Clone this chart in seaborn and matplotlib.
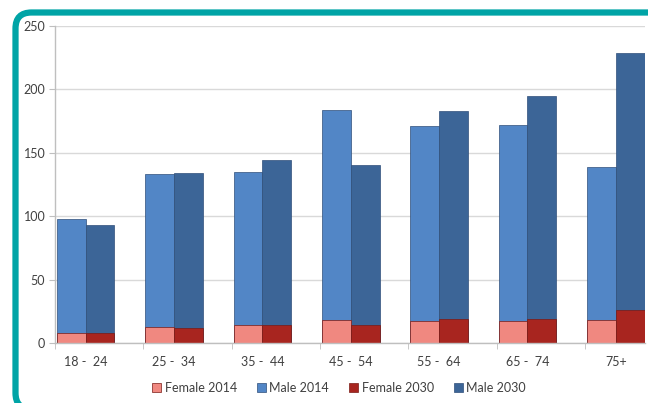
import pandas as pd
import numpy as np
import matplotlib
matplotlib.use('Agg')
import matplotlib.pyplot as plt
from matplotlib.patches import FancyBboxPatch
from matplotlib.transforms import IdentityTransform
import seaborn as sns

# 数据
age_groups = ['18 -  24', '25 -  34', '35 -  44', '45 -  54', '55 -  64', '65 -  74', '75+']
female_2014 = [8, 13, 14, 18, 17, 17, 18]
male_2014 = [90, 120, 121, 166, 154, 155, 121]
female_2030 = [8, 12, 14, 14, 19, 19, 26]
male_2030 = [85, 122, 130, 126, 164, 176, 203]

df = pd.DataFrame({
    'age': age_groups * 2,
    'year': ['2014'] * 7 + ['2030'] * 7,
    'female': female_2014 + female_2030,
    'male': male_2014 + male_2030,
})
df['total'] = df['female'] + df['male']

sns.set_style('white')
plt.rcParams['font.family'] = ['Lato', 'DejaVu Sans']

text_color = '#404040'
grid_color = '#D9D9D9'
blue_colors = {'2014': '#5286C6', '2030': '#3C6597'}
red_colors = {'2014': '#F08880', '2030': '#A8251F'}

fig = plt.figure(figsize=(6.48, 4.03), dpi=100)

# 外框 (像素坐标, 右边和底边在图外)
frame = FancyBboxPatch((15.5, -6), 720, 403 - 12.5 + 6,
                       boxstyle='round,pad=0,rounding_size=16',
                       transform=IdentityTransform(), fill=False,
                       edgecolor='#00A4A6', linewidth=4.5, clip_on=False)
fig.patches.append(frame)

ax = fig.add_axes([55 / 648, 1 - 343 / 403, 590 / 648, 317 / 403])

# 男性 (叠加后的总高度)
sns.barplot(data=df, x='age', y='total', hue='year', palette=blue_colors,
            width=0.65, gap=0, errorbar=None, legend=False, ax=ax,
            edgecolor='#2F4F7A', linewidth=0.5, saturation=1)
# 女性
sns.barplot(data=df, x='age', y='female', hue='year', palette=red_colors,
            width=0.65, gap=0, errorbar=None, legend=False, ax=ax,
            edgecolor='#7A1A15', linewidth=0.5, saturation=1)

ax.set_ylim(0, 250)
ax.set_xlim(-0.348, 6.33)
ax.set_yticks(range(0, 251, 50))
ax.yaxis.grid(True, color=grid_color, linewidth=1)
ax.set_axisbelow(True)
ax.set_xlabel('')
ax.set_ylabel('')

for side in ['top', 'right']:
    ax.spines[side].set_visible(False)
for side in ['left', 'bottom']:
    ax.spines[side].set_color('#BFBFBF')
    ax.spines[side].set_linewidth(1)

ax.tick_params(axis='y', which='major', length=4, color='#BFBFBF',
               labelcolor=text_color, labelsize=9, pad=3, left=True)
ax.tick_params(axis='x', which='major', length=0, labelcolor=text_color,
               labelsize=9, pad=9)
ax.set_xticks(np.arange(-0.348, 6.4, 1), minor=True)
ax.tick_params(axis='x', which='minor', length=4, color='#BFBFBF', bottom=True)

cont = ax.containers
handles = [cont[2][0], cont[0][0], cont[3][0], cont[1][0]]
labels = ['Female 2014', 'Male 2014', 'Female 2030', 'Male 2030']
leg = fig.legend(handles, labels, loc='center', ncol=4, frameon=False,
                 bbox_to_anchor=(339 / 648, 1 - 388 / 403),
                 handlelength=0.7, handleheight=0.7, handletextpad=0.3,
                 columnspacing=1.6, fontsize=9)
for t in leg.get_texts():
    t.set_color(text_color)

fig.savefig('out.png', dpi=100)
